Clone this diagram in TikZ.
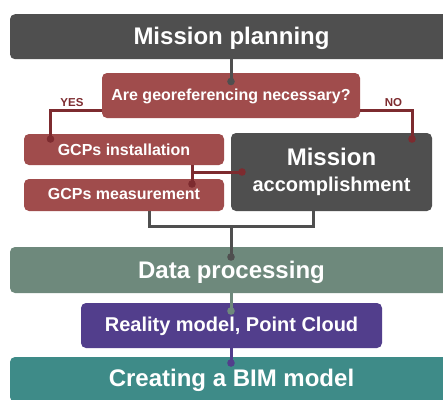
\documentclass[tikz,border=0pt]{standalone}
\usepackage{fontspec}
\setmainfont{Liberation Sans}
\definecolor{cgray}{HTML}{4F4F4F}
\definecolor{cred}{HTML}{A04C4C}
\definecolor{cdred}{HTML}{7D2B2F}
\definecolor{cgreen}{HTML}{6E897C}
\definecolor{cpurple}{HTML}{523E8C}
\definecolor{cteal}{HTML}{3E8B88}
\begin{document}
\begin{tikzpicture}[x=1pt,y=-1pt,
  box/.style={rounded corners=5pt, inner sep=0pt, text=white, font=\bfseries},
  big/.style={font=\fontsize{24}{26}\selectfont\bfseries, text height=17.5pt},
  mid/.style={font=\fontsize{16}{19}\selectfont\bfseries, text height=11.5pt},
  lbl/.style={inner sep=0pt, text=cdred, font=\fontsize{11.5}{13}\selectfont\bfseries},
  conn/.style={line width=3pt},
  dotn/.style={circle, inner sep=0pt, minimum size=7.6pt},
]
\clip (0,0) rectangle (443,399);
\fill[white] (0,0) rectangle (443,399);
% boxes
\node[box, big, text depth=2.3pt, fill=cgray, minimum width=443pt, minimum height=45pt] (mp) at (231.5,36.7) {Mission planning};
\node[box, mid, text depth=2.5pt, fill=cred, minimum width=258pt, minimum height=45pt] (q) at (231,95.5) {Are georeferencing necessary?};
\node[box, mid, text depth=0.5pt, fill=cred, minimum width=200pt, minimum height=31pt] (gi) at (124,149.5) {GCPs installation};
\node[box, mid, text depth=3.5pt, fill=cred, minimum width=200pt, minimum height=32pt] (gm) at (124,195) {GCPs measurement};
\node[box, fill=cgray, minimum width=201pt, minimum height=78pt, align=center, font=\fontsize{24}{26}\selectfont\bfseries] (ma) at (331.5,172) {Mission\\{\fontsize{20}{26}\selectfont accomplishment}};
\node[box, big, text depth=1pt, fill=cgreen, minimum width=443pt, minimum height=46pt] (dp) at (231.5,270) {Data processing};
\node[box, fill=cpurple, minimum width=301pt, minimum height=45pt, font=\fontsize{20}{23}\selectfont\bfseries, text height=14.4pt, text depth=2pt] (rm) at (231.5,325.5) {Reality model, Point Cloud};
\node[box, big, text depth=4pt, fill=cteal, minimum width=443pt, minimum height=45pt] (bim) at (231.5,379.5) {Creating a BIM model};
% labels
\node[lbl] (yes) at (72,102.5) {YES};
\node[lbl] (no) at (393.5,103) {NO};
% dots
\node[dotn, fill=cgray] (dq) at (231,81.5) {};
\node[dotn, fill=cdred] (dyes) at (50.5,139) {};
\node[dotn, fill=cdred] (dno) at (412,139) {};
\node[dotn, fill=cdred] (dgm) at (192,184) {};
\node[dotn, fill=cdred] (dma) at (242,172) {};
\node[dotn, fill=cgray] (ddp) at (231,257) {};
\node[dotn, fill=cgreen] (drm) at (231,311) {};
\node[dotn, fill=cpurple] (dbim) at (231,363) {};
% coordinates
\coordinate (cy) at (50.5,110.5);
\coordinate (cn) at (412,110.5);
\coordinate (cg) at (192,172);
\coordinate (j1) at (149,226);
\coordinate (j2) at (313,226);
\coordinate (jm) at (231,226);
% connectors
\draw[conn, cgray] (mp.south -| dq) -- (dq.center);
\draw[conn, cdred] (cy -| q.west) -- (cy) -- (dyes.center);
\draw[conn, cdred] (cn -| q.east) -- (cn) -- (dno.center);
\draw[conn, cdred] (dgm.center |- gi.south) -- (dgm.center);
\draw[conn, cdred] (cg) -- (dma.center);
\draw[conn, cgray] (j1 |- gm.south) -- (j1) -- (j2) -- (j2 |- ma.south);
\draw[conn, cgray] (jm) -- (ddp.center);
\draw[conn, cgreen] (dp.south -| drm) -- (drm.center);
\draw[conn, cpurple] (rm.south -| dbim) -- (dbim.center);
\end{tikzpicture}
\end{document}
